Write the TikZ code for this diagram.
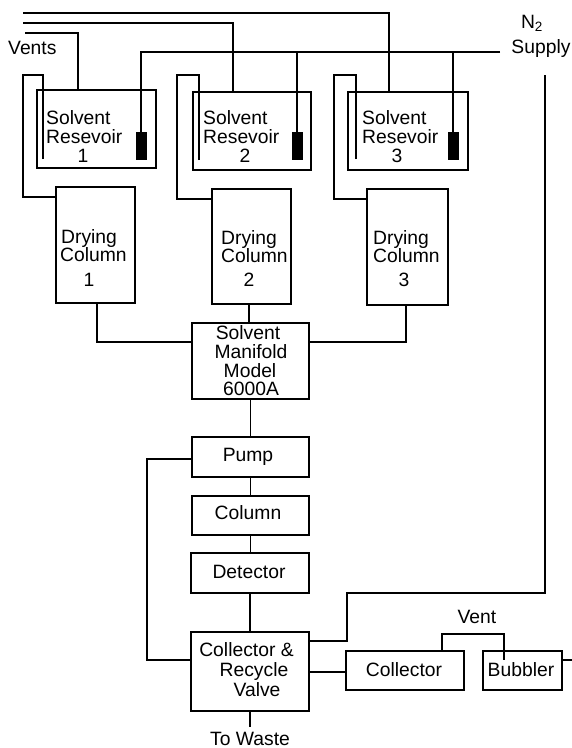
\documentclass[tikz,border=0pt]{standalone}
\usepackage{fontspec}
\setmainfont{Liberation Sans}
\begin{document}
\begin{tikzpicture}[x=1pt,y=-1pt,
  ln/.style={line width=1.7pt},
  box/.style={draw, line width=1.7pt, inner sep=0pt, outer sep=0pt, anchor=north west},
  blk/.style={fill=black, draw=black, line width=0.5pt, inner sep=0pt, outer sep=0pt, minimum width=10pt, minimum height=27pt},
  txt/.style={font=\fontsize{19.3}{19}\selectfont, inner sep=0pt, text height=13.6pt, text depth=0pt},
  ltxt/.style={txt, anchor=west}
]
\useasboundingbox (0,0) rectangle (572,748);

% ---------- boxes ----------
\node[box, minimum width=119pt, minimum height=78pt] (res1) at (37,90) {};
\node[box, minimum width=118pt, minimum height=78pt] (res2) at (193,92) {};
\node[box, minimum width=120pt, minimum height=78pt] (res3) at (348,92) {};
\node[blk] (blk1) at (141,145.5) {};
\node[blk] (blk2) at (297,145.5) {};
\node[blk] (blk3) at (453,145.5) {};

\node[box, minimum width=79pt, minimum height=116pt] (dc1) at (56,187) {};
\node[box, minimum width=79pt, minimum height=115pt] (dc2) at (212,189) {};
\node[box, minimum width=81pt, minimum height=116pt] (dc3) at (367,189) {};

\node[box, minimum width=117pt, minimum height=76pt] (man) at (192,323) {};
\node[box, minimum width=117pt, minimum height=40pt] (pump) at (192,437) {};
\node[box, minimum width=117pt, minimum height=39pt] (col) at (192,496) {};
\node[box, minimum width=118pt, minimum height=40pt] (det) at (191,553) {};
\node[box, minimum width=118pt, minimum height=79pt] (valve) at (191,632) {};
\node[box, minimum width=118pt, minimum height=39pt] (coll) at (346,651) {};
\node[box, minimum width=79pt, minimum height=39pt] (bub) at (483,651) {};

% ---------- texts ----------
\node[ltxt] (vents) at (8,48) {Vents};
\node[txt] (n2) at (532,22) {N\textsubscript{2}};
\node[txt] (supply) at (541,47) {Supply};

\node[ltxt] (r1a) at (46,118) {Solvent};
\node[ltxt] (r1b) at (46,137) {Resevoir};
\node[txt] (r1c) at (83,156) {1};
\node[ltxt] (r2a) at (203,118) {Solvent};
\node[ltxt] (r2b) at (203,137) {Resevoir};
\node[txt] (r2c) at (245,156) {2};
\node[ltxt] (r3a) at (362,118) {Solvent};
\node[ltxt] (r3b) at (362,137) {Resevoir};
\node[txt] (r3c) at (397,156) {3};

\node[ltxt] (d1a) at (61,237) {Drying};
\node[ltxt] (d1b) at (60,255) {Column};
\node[txt] (d1c) at (89,280) {1};
\node[ltxt] (d2a) at (221,238) {Drying};
\node[ltxt] (d2b) at (221,256) {Column};
\node[txt] (d2c) at (249,280) {2};
\node[ltxt] (d3a) at (373,238) {Drying};
\node[ltxt] (d3b) at (373,256) {Column};
\node[txt] (d3c) at (404,280) {3};

\node[txt] (m1) at (248,333) {Solvent};
\node[txt] (m2) at (251,352) {Manifold};
\node[txt] (m3) at (250,371) {Model};
\node[txt] (m4) at (251,389) {6000A};

\node[txt] (pumpt) at (248,455) {Pump};
\node[txt] (colt) at (248,513) {Column};
\node[txt] (dett) at (249,572) {Detector};
\node[txt] (v1t) at (246.5,650) {Collector \&};
\node[txt] (v2t) at (254,670) {Recycle};
\node[txt] (v3t) at (257,690) {Valve};
\node[txt] (collt) at (404,670) {Collector};
\node[txt] (bubt) at (521,670) {Bubbler};
\node[txt] (vent) at (477,617) {Vent};
\node[txt] (waste) at (250,738.5) {To Waste};

% ---------- free ends ----------
\coordinate (v1) at (23,13);
\coordinate (v2) at (23,23);
\coordinate (v3) at (25,33);
\coordinate (n2e) at (500,52);
\coordinate (n2t) at (545,75);
\coordinate (pe1) at (43,159);
\coordinate (pe2) at (199,160);
\coordinate (pe3) at (356,159);
\coordinate (ve) at (504,660);
\coordinate (bo) at (572,660);
\coordinate (we) at (250,727);

% ---------- vent lines ----------
\draw[ln] (v1) -- (389,13) -- (res3.north -| 389,0);
\draw[ln] (v2) -- (233,23) -- (res2.north -| 233,0);
\draw[ln] (v3) -- (78,33) -- (res1.north -| 78,0);

% ---------- N2 supply ----------
\draw[ln] (n2e) -- (141,52) -- (blk1.north);
\draw[ln] (blk2.north) -- (297,52);
\draw[ln] (blk3.north) -- (453,52);

% ---------- reservoir outlets to drying columns ----------
\draw[ln] (pe1) -- (43,75) -- (23,75) -- (23,197) -- (dc1.west |- 0,197);
\draw[ln] (pe2) -- (199,75) -- (177,75) -- (177,199) -- (dc2.west |- 0,199);
\draw[ln] (pe3) -- (356,75) -- (334,75) -- (334,199) -- (dc3.west |- 0,199);

% ---------- drying columns to manifold ----------
\draw[ln] (dc1.south -| 97,0) -- (97,342) -- (man.west |- 0,342);
\draw[ln] (dc2.south -| 249,0) -- (man.north -| 249,0);
\draw[ln] (dc3.south -| 406,0) -- (406,342) -- (man.east |- 0,342);

% ---------- main chain ----------
\draw[ln] (man.south) -- (man.south |- pump.north);
\draw[ln] (pump.south) -- (pump.south |- col.north);
\draw[ln] (col.south) -- (col.south |- det.north);
\draw[ln] (det.south) -- (det.south |- valve.north);
\draw[ln] (valve.south -| we) -- (we);

% ---------- recycle loop ----------
\draw[ln] (pump.west |- 0,459) -- (147,459) -- (147,660) -- (valve.west |- 0,660);

% ---------- N2 to valve ----------
\draw[ln] (n2t) -- (545,593) -- (347,593) -- (347,641) -- (valve.east |- 0,641);

% ---------- collector, bubbler ----------
\draw[ln] (valve.east |- 0,672) -- (coll.west |- 0,672);
\draw[ln] (coll.north -| 442,0) -- (442,634) -- (504,634) -- (ve);
\draw[ln] (bub.east |- 0,660) -- (bo);
\end{tikzpicture}
\end{document}
